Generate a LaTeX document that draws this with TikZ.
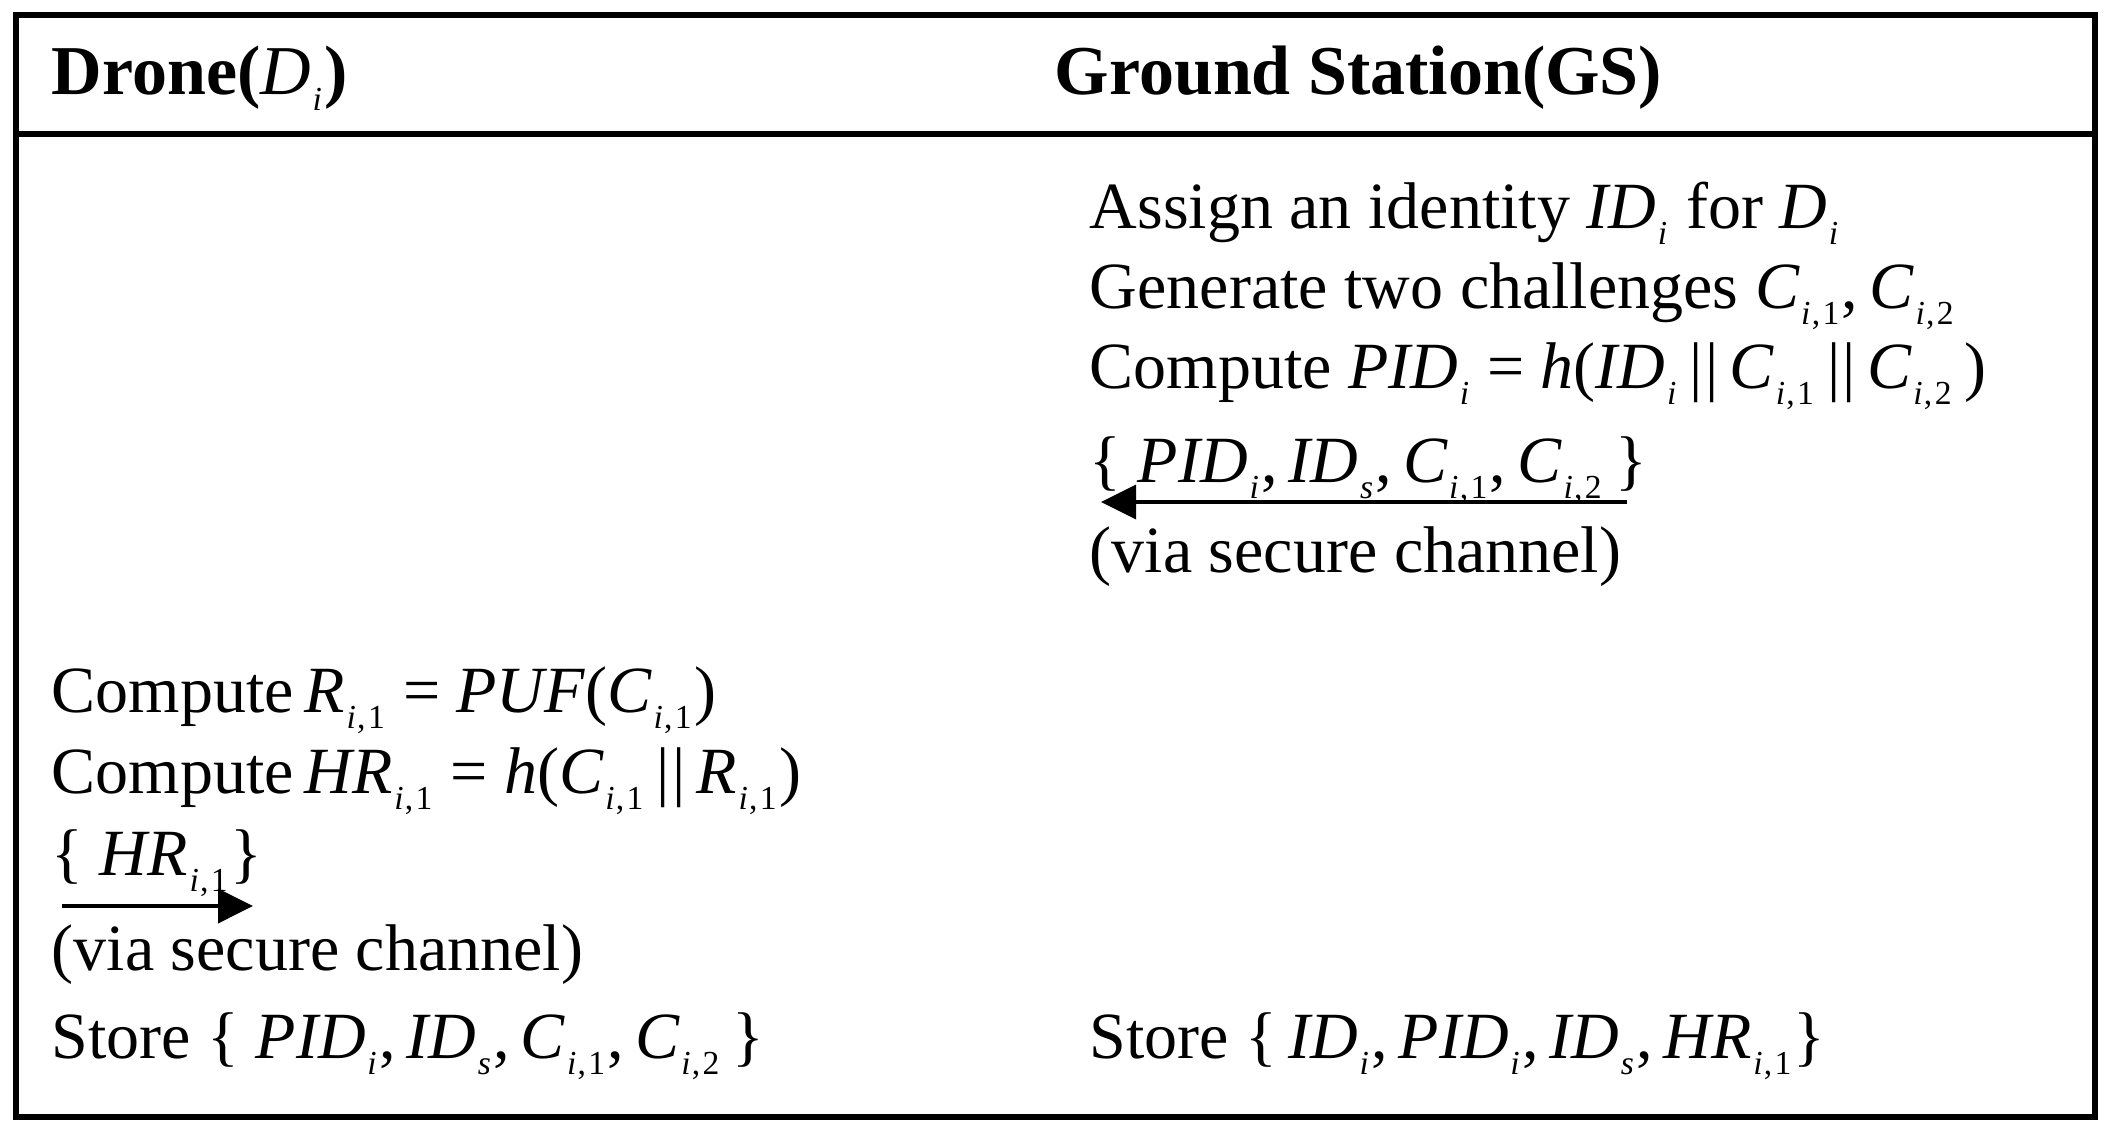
\documentclass[tikz,border=0pt]{standalone}
\usepackage{fontspec}
\setmainfont{Liberation Serif}
\usetikzlibrary{arrows.meta}
\newcommand\sbs[1]{\kern0.4pt\raisebox{-4pt}{\fontsize{8.4}{10}\selectfont #1}\kern0.6pt\relax}
\newcommand\ii{\textit{i}}
\newcommand\cm{\kern0.3pt,\kern0.6pt\relax}
\newcommand\Ci[1]{\textit{C}\sbs{\ii\cm#1}}
\newcommand\bars{\,\textbar\kern0.6pt\textbar\,}
\newcommand\eq{\kern4pt=\kern4pt\relax}
\tikzset{
  txt/.style={anchor=base west, inner sep=0pt, font=\fontsize{16.5}{18}\selectfont},
  head/.style={anchor=base west, inner sep=0pt, font=\fontsize{17.5}{19}\selectfont\bfseries},
  frame/.style={line width=1.5pt},
  msg/.style={line width=0.9pt, -{Triangle[length=8.75pt,width=8.5pt]}}
}
\begin{document}
\begin{tikzpicture}[x=0.25pt,y=-0.25pt]
\useasboundingbox (0,0) rectangle (2119,1139);
\draw[frame] (16,15) rectangle (2095,1117);
\draw[frame] (16,134) -- (2095,134);
\node[head] (hd) at (51,94) {Drone(\textit{\mdseries D}\sbs{\mdseries\ii})};
\node[head] (hg) at (1054,94) {Ground Station(GS)};
% ground station block
\node[txt] (r1) at (1089,228) {Assign an identity \textit{ID}\sbs{\ii} for \textit{D}\sbs{\ii}};
\node[txt] (r2) at (1089,308) {Generate two challenges \Ci1,\,\Ci2};
\node[txt] (r3) at (1089,388) {Compute \textit{PID}\sbs{\ii}\eq\textit{h}(\textit{ID}\sbs{\ii}\bars\Ci1\bars\Ci2\,)};
\node[txt] (r4) at (1089,482) {\{ \textit{PID}\sbs{\ii},\,\textit{ID}\sbs{\textit{s}},\,\Ci1,\,\Ci2\,\}};
\node[txt] (r5) at (1089,572) {(via secure channel)};
\coordinate (m1s) at (1627,502);
\coordinate (m1e) at (1101,502);
\draw[msg] (m1s) -- (m1e);
% drone block
\node[txt] (l1) at (51,712) {Compute\,\textit{R}\sbs{\ii\cm1}\eq\textit{PUF}(\Ci1)};
\node[txt] (l2) at (51,793) {Compute\,\textit{HR}\sbs{\ii\cm1}\eq\textit{h}(\Ci1\bars\textit{R}\sbs{\ii\cm1})};
\node[txt] (l3) at (51,875) {\{ \textit{HR}\sbs{\ii\cm1}\}};
\coordinate (m2s) at (62,906);
\coordinate (m2e) at (253,906);
\draw[msg] (m2s) -- (m2e);
\node[txt] (l4) at (51,970) {(via secure channel)};
\node[txt] (l5) at (51,1058) {Store \{ \textit{PID}\sbs{\ii},\,\textit{ID}\sbs{\textit{s}},\,\Ci1,\,\Ci2\,\}};
\node[txt] (r6) at (1089,1058) {Store \{\,\textit{ID}\sbs{\ii},\,\textit{PID}\sbs{\ii},\,\textit{ID}\sbs{\textit{s}},\,\textit{HR}\sbs{\ii\cm1}\}};
\end{tikzpicture}
\end{document}
